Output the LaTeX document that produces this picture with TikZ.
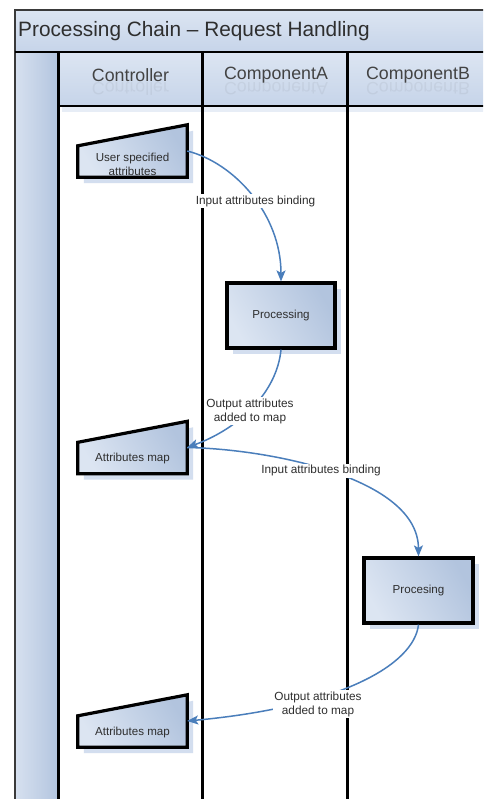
\documentclass[tikz,border=0pt]{standalone}
\usepackage{fontspec}
\setmainfont{Liberation Sans}
\usetikzlibrary{arrows.meta}

\definecolor{bandtop}{HTML}{DCE5F2}
\definecolor{bandbot}{HTML}{C6D4E9}
\definecolor{collight}{HTML}{D6E0EF}
\definecolor{coldark}{HTML}{B3C5DF}
\definecolor{boxlight}{HTML}{DCE5F2}
\definecolor{boxdark}{HTML}{B2C4DE}
\definecolor{shadowc}{HTML}{D3DEEF}
\definecolor{flowc}{HTML}{4A7EBB}
\definecolor{inkc}{HTML}{2E2E2E}
\definecolor{framec}{HTML}{3A3A3A}

% slanted "manual input" outline with its drop shadow, around a named node
\newcommand{\manualinput}[1]{%
  \fill[shadowc] ([shift={(6,6)}]#1.south west) -- ([shift={(6,6)}]#1.south east)
    -- ([shift={(6,6)}]#1.north east) -- ([shift={(6,27)}]#1.north west) -- cycle;
  \path[boxfill] (#1.south west) -- (#1.south east) -- (#1.north east)
    -- ([yshift=-21pt]#1.north west) -- cycle;}

\begin{document}
\begin{tikzpicture}[x=1pt,y=-1pt,
  lane/.style={line width=3pt, black},
  boxfill/.style={draw=black, line width=3.2pt, line join=miter,
    left color=boxlight, right color=boxdark, shading angle=120},
  shapebox/.style={minimum width=109pt, minimum height=52pt, inner sep=0pt},
  procbox/.style={boxfill, minimum width=108pt, minimum height=65pt, inner sep=0pt,
    font=\fontsize{11.6}{14}\selectfont, text=inkc},
  boxtext/.style={font=\fontsize{11.6}{14}\selectfont, text=inkc, align=center, inner sep=0pt},
  hdr/.style={font=\fontsize{17.8}{20}\selectfont, text=inkc!90},
  flow/.style={draw=flowc, line width=1.5pt,
    -{Stealth[length=11pt, width=9pt, inset=2.5pt]}},
  flowlabel/.style={fill=white, inner sep=1.5pt, align=center,
    font=\fontsize{11.8}{14}\selectfont, text=inkc},
]
\useasboundingbox (0,0) rectangle (483,799);
\clip (0,0) rectangle (483,799);
\fill[white] (0,0) rectangle (483,799);

% title band
\shade[top color=bandtop, bottom color=bandbot] (15,10) rectangle (490,52);
\draw[framec, line width=1.5pt] (490,10) -- (15,10) -- (15,805);
\node[anchor=west, inner sep=0pt, font=\fontsize{20.8}{24}\selectfont, text=inkc] (title)
  at (18,31.5) {Processing Chain – Request Handling};

% left column and header row
\shade[left color=collight, right color=coldark] (15.75,52) rectangle (58,805);
\shade[top color=boxlight, bottom color=bandbot] (58,52) rectangle (490,106);
\fill[shadowc!55] (62,106) rectangle (490,112);
\draw[framec, line width=1.5pt] (15,10) -- (15,805);
\draw[black, line width=2pt] (15,52) -- (490,52);
\draw[black, line width=1.8pt] (58,106) -- (490,106);

% swimlane separators
\foreach \lx/\nm in {58/laneA, 202.5/laneB, 347/laneC} {
  \coordinate (\nm top) at (\lx,52);
  \coordinate (\nm bot) at (\lx,805);
  \draw[lane] (\nm top) -- (\nm bot);
}

% lane headers with their faint reflections
\node[hdr] (hctl) at (130.5,75.5) {Controller};
\node[hdr] (hca)  at (276,75.5) {ComponentA};
\node[hdr] (hcb)  at (418,75.5) {ComponentB};
\node[hdr, anchor=base, yscale=-1, opacity=0.07] (hctlr) at (130.5,83) {Controller};
\node[hdr, anchor=base, yscale=-1, opacity=0.07] (hcar)  at (276,83) {ComponentA};
\node[hdr, anchor=base, yscale=-1, opacity=0.07] (hcbr)  at (418,83) {ComponentB};

% user attributes (manual input)
\node[shapebox] (user) at (132.5,151) {};
\manualinput{user}
\node[boxtext] (usertext) at (132.5,164.5) {User specified\\attributes};

% processing in component A
\fill[shadowc] (233,289) rectangle (341,354);
\node[procbox] (procA) at (281,315.5) {Processing};

% first attributes map
\node[shapebox] (map1) at (132.5,447.5) {};
\manualinput{map1}
\node[boxtext] (map1text) at (132.5,458) {Attributes map};

% processing in component B
\fill[shadowc] (370,564) rectangle (479,629);
\node[procbox, minimum width=109pt] (procB) at (418.5,590.5) {Procesing};

% second attributes map
\node[shapebox] (map2) at (132.5,721) {};
\manualinput{map2}
\node[boxtext] (map2text) at (132.5,732) {Attributes map};

% data flow
\draw[flow] (user.east) .. controls (235,163) and (281,215) .. (procA.north);
\draw[flow] (procA.south) .. controls (277,392) and (240,428) .. (map1.east);
\draw[flow] (map1.east) .. controls (270,449) and (418,478) .. (procB.north);
\draw[flow] (procB.south) .. controls (414,665) and (340,707) .. (map2.east);

% flow labels
\node[flowlabel] (lbl1) at (255.5,201) {Input attributes binding};
\node[flowlabel] (lbl2) at (250,411) {Output attributes\\added to map};
\node[flowlabel] (lbl3) at (321,470.5) {Input attributes binding};
\node[flowlabel] (lbl4) at (318,704) {Output attributes\\added to map};
\end{tikzpicture}
\end{document}
